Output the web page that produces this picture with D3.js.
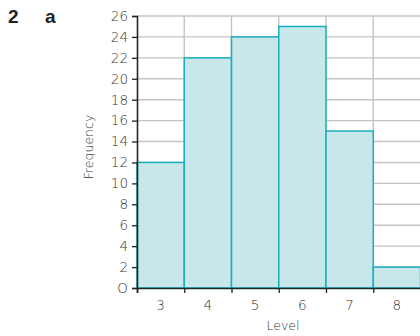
<!DOCTYPE html>
<html>
<head>
<meta charset="utf-8">
<script src="https://cdn.jsdelivr.net/npm/d3@7/dist/d3.min.js"></script>
<style>
  html, body { margin: 0; padding: 0; background: #fff; }
  svg { display: block; }
</style>
</head>
<body>
<svg id="chart" width="420" height="336"></svg>
<script>
// Histogram of levels
const levels = [3, 4, 5, 6, 7, 8];
const frequencies = [12, 22, 24, 25, 15, 2];
const yTicks = d3.range(0, 27, 2);

const svg = d3.select("#chart");
const plotLeft = 137, plotRight = 420, plotTop = 16, plotBottom = 288;

const x = d3.scaleLinear().domain([2.5, 8.5]).range([plotLeft, plotRight + 0.5]);
const y = d3.scaleLinear().domain([0, 26]).range([plotBottom, plotTop]);

const gridColor = "#c4c4c6";
const labelFont = "'DejaVu Sans', sans-serif";
const labelColor = "#333";
const headFont = "'Liberation Sans', Arial, sans-serif";

// Grid
svg.append("g").selectAll("line")
  .data(yTicks.filter(d => d > 0))
  .join("line")
  .attr("x1", plotLeft).attr("x2", plotRight)
  .attr("y1", d => y(d)).attr("y2", d => y(d))
  .attr("stroke", gridColor).attr("stroke-width", 1.4);

const edges = levels.slice(1).map(l => l - 0.5);
svg.append("g").selectAll("line")
  .data(edges)
  .join("line")
  .attr("x1", d => x(d)).attr("x2", d => x(d))
  .attr("y1", plotTop).attr("y2", plotBottom)
  .attr("stroke", gridColor).attr("stroke-width", 1.4);

// Bars
svg.append("g").selectAll("rect")
  .data(levels.map((l, i) => ({ l, f: frequencies[i] })))
  .join("rect")
  .attr("x", d => x(d.l - 0.5))
  .attr("width", d => x(d.l + 0.5) - x(d.l - 0.5))
  .attr("y", d => y(d.f))
  .attr("height", d => y(0) - y(d.f))
  .attr("fill", "#c8e7e9")
  .attr("stroke", "#1aafc0")
  .attr("stroke-width", 1.5);

// Y axis
const yAxis = svg.append("g")
  .attr("transform", `translate(${plotLeft},0)`)
  .call(d3.axisLeft(y).tickValues(yTicks).tickSize(5).tickPadding(4)
    .tickFormat(d => d === 0 ? "O" : d));
yAxis.select(".domain").attr("stroke", "#1a2a2c").attr("stroke-width", 1.6);
yAxis.selectAll(".tick line").attr("stroke", "#222").attr("stroke-width", 1.3);
yAxis.selectAll(".tick text")
  .attr("font-family", labelFont).attr("font-weight", 300)
  .attr("font-size", 13.5).attr("fill", labelColor);

// X axis
const xAxis = svg.append("g")
  .attr("transform", `translate(0,${plotBottom})`)
  .call(d3.axisBottom(x).tickValues([2.5, ...edges]).tickSize(5).tickFormat(""));
xAxis.select(".domain").attr("stroke", "#1a2a2c").attr("stroke-width", 1.6);
xAxis.selectAll(".tick line").attr("stroke", "#222").attr("stroke-width", 1.3);

svg.append("g").selectAll("text")
  .data(levels)
  .join("text")
  .attr("x", d => x(d))
  .attr("y", 310)
  .attr("text-anchor", "middle")
  .attr("font-family", labelFont).attr("font-weight", 300)
  .attr("font-size", 13.5).attr("fill", labelColor)
  .text(d => d);

// Axis titles
svg.append("text")
  .attr("x", 283).attr("y", 330)
  .attr("text-anchor", "middle")
  .attr("font-family", labelFont).attr("font-weight", 300)
  .attr("font-size", 12.5).attr("fill", labelColor)
  .text("Level");

svg.append("text")
  .attr("transform", "translate(93,147) rotate(-90)")
  .attr("text-anchor", "middle")
  .attr("font-family", labelFont).attr("font-weight", 300)
  .attr("font-size", 12.5).attr("fill", labelColor)
  .text("Frequency");

// Question label
svg.append("text").attr("x", 8).attr("y", 23)
  .attr("font-family", headFont).attr("font-weight", "bold")
  .attr("font-size", 19).attr("fill", "#222").text("2");
svg.append("text").attr("x", 45).attr("y", 23)
  .attr("font-family", headFont).attr("font-weight", "bold")
  .attr("font-size", 19).attr("fill", "#222").text("a");
</script>
</body>
</html>
